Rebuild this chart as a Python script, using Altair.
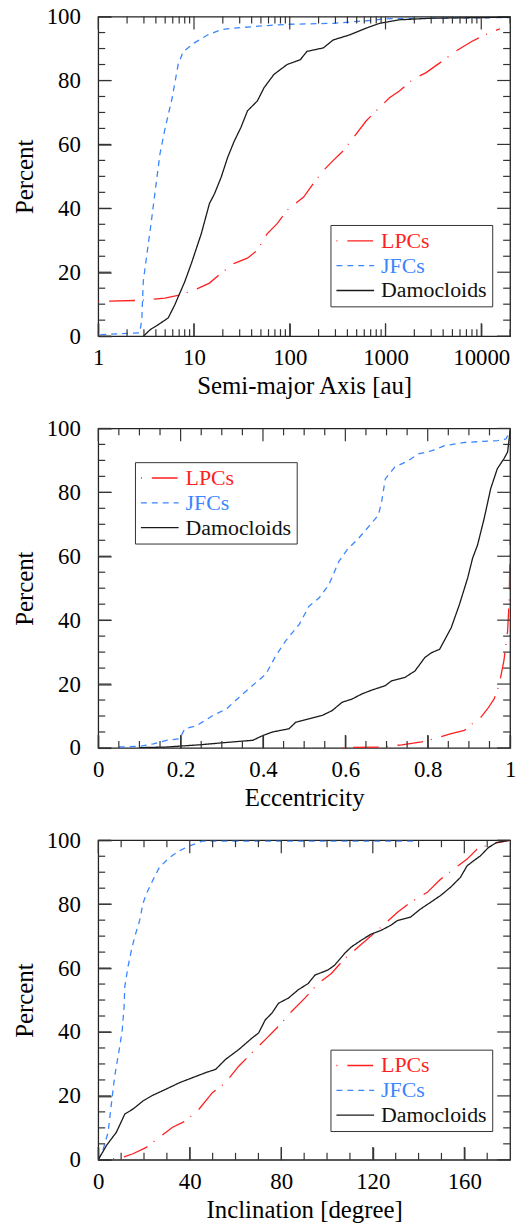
import altair as alt
import pandas as pd

# ---------------- data ----------------
SERIES = ["LPCs", "JFCs", "Damocloids"]
COLORS = ["#ff1f1f", "#3a86ff", "#1a1a1a"]
DASHES = [[1, 10, 26, 8], [6, 5], [1, 0]]

# Panel 1: semi-major axis [au]
A_LPC_X = [1, 2.85, 4.97, 7.4, 10.2, 14.5, 19.2, 26.3, 36.2, 45.9, 58, 73.9, 93.8, 139.6, 176, 224, 285,
           361, 458, 630, 800, 1100, 1396, 1920, 2630, 3890, 5370, 7940, 10960, 15700]
A_LPC_Y = [10.9, 11.2, 11.9, 13, 14.5, 16.6, 19.7, 22.8, 24.4, 26.9, 32, 35.2, 39.4, 43.5, 47.7, 51.8, 55,
           58, 62, 67.4, 70.5, 74.6, 76.7, 80.3, 82.4, 86, 89.1, 92.2, 94.3, 96.2]
A_JFC_X = [1.05, 2.7, 2.85, 2.95, 3.2, 3.56, 3.86, 4.41, 4.97, 5.92, 6.83, 7.7, 10, 13.97, 19.2, 26.3, 58,
           100, 285, 630, 1000, 3090, 20000]
A_JFC_Y = [0.5, 1.0, 5, 17, 25, 35.2, 43.5, 57, 64.8, 74.6, 85, 89, 91.7, 94.3, 95.9, 96.4, 97.2,
           97.6, 97.9, 98.7, 99.3, 99.5, 99.7]
A_DAM_X = [2.97, 3.48, 4.24, 5.38, 6.3, 8.0, 9.4, 11.9, 14.5, 16.4, 19.2, 22.5, 26.3, 30.9, 36.2, 45.9,
           53.8, 68.3, 93.8, 129, 151, 224, 285, 425, 630, 870, 1396, 3090, 20000]
A_DAM_Y = [0, 2, 3.6, 5.7, 9.8, 17, 22.8, 32, 41.5, 44.6, 49.7, 56, 61, 65.3, 70.5, 73.6,
           77.7, 81.9, 85, 86.5, 89.1, 90.2, 92.7, 94.3, 96.4, 97.9, 99, 99.5, 99.8]

# Panel 2: eccentricity
B_LPC_X = [0.592, 0.688, 0.737, 0.785, 0.817, 0.857, 0.889, 0.913, 0.929, 0.945, 0.961, 0.969, 0.977,
           0.985, 0.994, 0.998, 1.0]
B_LPC_Y = [0.1, 0.3, 1, 1.9, 2.9, 4.5, 5.5, 8.1, 9.6, 12.2, 15.3, 17.9, 22.1, 27.3, 36.6, 46.9, 65]
B_JFC_X = [0.05, 0.1, 0.134, 0.166, 0.198, 0.21, 0.239, 0.279, 0.311, 0.351, 0.383, 0.407, 0.431, 0.455,
           0.488, 0.512, 0.536, 0.56, 0.584, 0.604, 0.632, 0.656, 0.68, 0.688, 0.697, 0.72, 0.753, 0.777,
           0.809, 0.841, 0.889, 0.97, 0.99, 1.0]
B_JFC_Y = [0.3, 0.5, 1.3, 2.4, 2.9, 6, 7, 10.2, 12.2, 16.9, 20.5, 23.1, 28.8, 33.5, 38.7, 44.4, 46.9,
           51.1, 58.3, 62, 65.6, 69.2, 72.8, 77, 84.2, 87.9, 89.9, 92, 93, 94.6, 95.6, 96.2, 96.7, 99.3]
B_DAM_X = [0.1, 0.166, 0.247, 0.327, 0.375, 0.4, 0.423, 0.463, 0.48, 0.512, 0.544, 0.568, 0.592, 0.616,
           0.64, 0.664, 0.697, 0.712, 0.745, 0.769, 0.793, 0.809, 0.829, 0.857, 0.877, 0.897, 0.909,
           0.921, 0.937, 0.953, 0.969, 0.985, 0.994, 1.0]
B_DAM_Y = [0.1, 0.3, 1, 1.9, 2.4, 3.9, 5, 6, 8.1, 9.1, 10.2, 11.7, 14.3, 15.3, 16.9, 18.1, 19.5, 21,
           22.1, 24.1, 28.3, 29.8, 30.9, 37.6, 44.9, 53.2, 59.4, 63.5, 71.8, 81.2, 87.4, 90.5, 92.6, 99.3]

# Panel 3: inclination [degree]
C_LPC_X = [6.5, 10.8, 15.2, 21, 26.7, 32.5, 38.3, 44.1, 49.9, 55.6, 61.4, 67.2, 73, 78.8, 84.5, 90.3,
           96.1, 101.9, 107.7, 112, 117.8, 123.6, 130.8, 136.6, 143.8, 149.6, 155.4, 161.2, 165.5,
           171.3, 180]
C_LPC_Y = [0.3, 0.8, 1.9, 3.9, 7, 10.2, 12.2, 15.9, 21, 24.1, 29.3, 33.5, 37.6, 41.8, 46.4, 50.6,
           55.2, 58.3, 63, 65.6, 69.2, 72.8, 77.5, 80.6, 83.7, 87.8, 91, 94.1, 97.2, 98.8, 100]
C_JFC_X = [0, 2.2, 4.3, 5.8, 7.2, 9.4, 10.5, 11.3, 11.6, 13, 14.5, 15.9, 18.1, 19.5, 21, 23.8, 26.7,
           31.1, 35.4, 39.7, 45.5, 139]
C_JFC_Y = [0, 3.4, 8.6, 17.9, 26.2, 35.5, 40.7, 48, 54.2, 60.4, 65.6, 69.7, 74.9, 80.1, 83.2, 87.4,
           91.5, 94.6, 96.7, 98.2, 99.7, 99.7]
C_DAM_X = [0, 3.6, 7.9, 11.6, 15.2, 19.5, 23.8, 29.6, 35.4, 41.2, 47, 51.3, 55.6, 61.4, 67.2, 70.1, 73,
           75.9, 78.8, 83.1, 87.4, 91.8, 94.7, 100.4, 103.3, 107.7, 110.6, 114.9, 119.2, 123.6, 127.9,
           130.8, 136.6, 140.9, 145.3, 149.6, 154, 158.3, 161.2, 164.1, 167, 170.5, 174.1, 180]
C_DAM_Y = [0, 4.5, 8.6, 14.3, 15.9, 18.4, 20.2, 22.1, 24.1, 25.7, 27.3, 28.3, 31.4, 34.5, 38.1, 39.7,
           43.8, 45.9, 49, 50.6, 53.2, 55.2, 57.8, 59.4, 60.9, 64.6, 66.6, 68.7, 70.6, 71.8, 73.4,
           74.9, 76, 78.5, 80.6, 82.7, 85.3, 88.4, 92, 93.6, 95.1, 97.7, 99.3, 100]

# axis tick values
Y_LABELS = [0, 20, 40, 60, 80, 100]
Y_MINOR = [5, 10, 15, 25, 30, 35, 45, 50, 55, 65, 70, 75, 85, 90, 95]
A_LABELS = [1, 10, 100, 1000, 10000]
A_MINOR = [m * d for d in [1, 10, 100, 1000] for m in range(2, 10)] + [20000]
B_LABELS = [0, 0.2, 0.4, 0.6, 0.8, 1]
B_MINOR = [0.05, 0.1, 0.15, 0.25, 0.3, 0.35, 0.45, 0.5, 0.55, 0.65, 0.7, 0.75, 0.85, 0.9, 0.95]
C_LABELS = [0, 40, 80, 120, 160]
C_MINOR = [10, 20, 30, 50, 60, 70, 90, 100, 110, 130, 140, 150, 170]

# ---------------- styling ----------------
W, H = 415, 322
FONT = "Liberation Serif"
TICK = "#333333"
MAJ, MIN = 13, 7
LABEL_EXPR = "datum.label == 'LPCs' ? '#ff1f1f' : datum.label == 'JFCs' ? '#3a86ff' : '#111111'"


def series_df(parts):
    rows = []
    for name, xs, ys in parts:
        for i, (x, y) in enumerate(zip(xs, ys)):
            rows.append({"x": x, "pct": y, "series": name, "order": i})
    return pd.DataFrame(rows)


def panel(df, xscale, xtitle, xlabels, xfmt, xmajor, xminor, lx, ly):
    yscale = alt.Scale(domain=[0, 100], nice=False, zero=False)
    # inward major ticks (negative tick length), labels pushed back outside
    xaxis = alt.Axis(values=xlabels, format=xfmt, ticks=True, tickSize=alt.ExprRef("-13"),
                     tickColor=TICK, tickWidth=1.2, domain=False, grid=False,
                     labelPadding=24, titlePadding=4, labelFlush=False)
    yaxis = alt.Axis(values=Y_LABELS, ticks=True, tickSize=alt.ExprRef("-13"),
                     tickColor=TICK, tickWidth=1.2, domain=False, grid=False,
                     labelPadding=31, titlePadding=9)
    leg = alt.Legend(
        title=None, orient="none", legendX=lx, legendY=ly,
        strokeColor="#333333", fillColor="white", padding=5,
        labelFont=FONT, labelFontSize=22, labelOffset=6,
        labelColor=alt.ExprRef(LABEL_EXPR),
        symbolSize=1444, symbolStrokeWidth=1.4, symbolType="stroke",
        clipHeight=22, rowPadding=3,
    )
    lines = alt.Chart(df).mark_line(clip=True, strokeWidth=1.3).encode(
        x=alt.X("x:Q", scale=xscale, title=xtitle, axis=xaxis),
        y=alt.Y("pct:Q", scale=yscale, title="Percent", axis=yaxis),
        color=alt.Color("series:N", scale=alt.Scale(domain=SERIES, range=COLORS), legend=leg),
        strokeDash=alt.StrokeDash("series:N", scale=alt.Scale(domain=SERIES, range=DASHES), legend=leg),
        order="order:Q",
    )
    layers = [lines]
    for vals, ln in [(xmajor, MAJ), (xminor, MIN)]:
        d = pd.DataFrame({"x": vals})
        xe = alt.X("x:Q", scale=xscale)
        layers.append(alt.Chart(d).mark_rule(color=TICK, strokeWidth=1.2).encode(
            x=xe, y=alt.value(H), y2=alt.value(H - ln)))
        layers.append(alt.Chart(d).mark_rule(color=TICK, strokeWidth=1.2).encode(
            x=xe, y=alt.value(0), y2=alt.value(ln)))
    for vals, ln in [(Y_LABELS, MAJ), (Y_MINOR, MIN)]:
        d = pd.DataFrame({"pct": vals})
        ye = alt.Y("pct:Q", scale=yscale)
        layers.append(alt.Chart(d).mark_rule(color=TICK, strokeWidth=1.2).encode(
            y=ye, x=alt.value(0), x2=alt.value(ln)))
        layers.append(alt.Chart(d).mark_rule(color=TICK, strokeWidth=1.2).encode(
            y=ye, x=alt.value(W - ln), x2=alt.value(W)))
    return alt.layer(*layers).properties(width=W, height=H)


dfA = series_df([("LPCs", A_LPC_X, A_LPC_Y), ("JFCs", A_JFC_X, A_JFC_Y), ("Damocloids", A_DAM_X, A_DAM_Y)])
dfB = series_df([("LPCs", B_LPC_X, B_LPC_Y), ("JFCs", B_JFC_X, B_JFC_Y), ("Damocloids", B_DAM_X, B_DAM_Y)])
dfC = series_df([("LPCs", C_LPC_X, C_LPC_Y), ("JFCs", C_JFC_X, C_JFC_Y), ("Damocloids", C_DAM_X, C_DAM_Y)])

pA = panel(dfA, alt.Scale(type="log", domain=[1, 20000], nice=False), "Semi-major Axis [au]",
           A_LABELS, "d", A_LABELS, A_MINOR, 234, 210)
pB = panel(dfB, alt.Scale(domain=[0, 1], nice=False, zero=False), "Eccentricity",
           B_LABELS, ".1~f", B_LABELS, B_MINOR, 37, 34)
pC = panel(dfC, alt.Scale(domain=[0, 180], nice=False, zero=False), "Inclination [degree]",
           C_LABELS, "d", C_LABELS, C_MINOR, 234, 211)

chart = alt.vconcat(pA, pB, pC, spacing=17).resolve_scale(
    color="independent", strokeDash="independent"
).properties(
    padding={"left": 11, "top": 0, "right": 4, "bottom": 0},
    background="white",
).configure_view(
    stroke="#222222", strokeWidth=1.3
).configure_axis(
    labelFont=FONT, labelFontSize=23, labelColor="black",
    titleFont=FONT, titleFontSize=25, titleFontWeight="normal", titleColor="black",
)

chart.save("out.html", embed_options={"renderer": "svg", "actions": False})
